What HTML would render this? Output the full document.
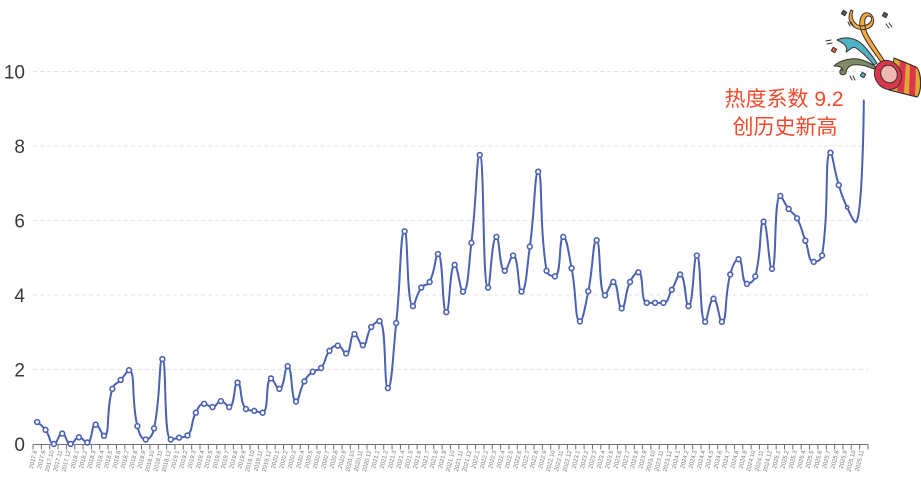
<!DOCTYPE html>
<html><head><meta charset="utf-8">
<style>
html,body{margin:0;padding:0;background:#fff;}
svg{display:block;}
.yl{font-family:"Liberation Sans",sans-serif;font-size:19px;fill:#3a3a3a;text-anchor:end;}
.xl{font-family:"Liberation Sans",sans-serif;font-size:6px;fill:#777;text-anchor:end;}
.ann{font-family:"Liberation Sans","Noto Sans CJK SC",sans-serif;font-size:21px;fill:#EE4A2B;text-anchor:middle;}
</style></head>
<body>
<svg id="svg" width="921" height="482" viewBox="0 0 921 482" xmlns="http://www.w3.org/2000/svg">
<rect width="921" height="482" fill="#fff"/>
<g stroke="#E0E3EA" stroke-width="1" stroke-dasharray="4,3">
<line x1="33" y1="369.5" x2="868" y2="369.5"/>
<line x1="33" y1="295" x2="868" y2="295"/>
<line x1="33" y1="220.5" x2="868" y2="220.5"/>
<line x1="33" y1="146" x2="868" y2="146"/>
<line x1="33" y1="71.5" x2="868" y2="71.5"/>
</g>
<text class="yl" x="25" y="451">0</text>
<text class="yl" x="25" y="376.5">2</text>
<text class="yl" x="25" y="302">4</text>
<text class="yl" x="25" y="227.5">6</text>
<text class="yl" x="25" y="153">8</text>
<text class="yl" x="25" y="78.5">10</text>
<line x1="33" y1="444.5" x2="868" y2="444.5" stroke="#6E7079" stroke-width="1"/>
<line x1="32.5" y1="447" x2="869" y2="447" stroke="#6E7079" stroke-width="5" stroke-dasharray="1 7.35"/>
<g id="xlabels">
<text class="xl" transform="translate(37.2,451) rotate(-76)">2017.8</text>
<text class="xl" transform="translate(45.5,451) rotate(-76)">2017.9</text>
<text class="xl" transform="translate(53.9,451) rotate(-76)">2017.10</text>
<text class="xl" transform="translate(62.2,451) rotate(-76)">2017.11</text>
<text class="xl" transform="translate(70.6,451) rotate(-76)">2017.12</text>
<text class="xl" transform="translate(78.9,451) rotate(-76)">2018.1</text>
<text class="xl" transform="translate(87.3,451) rotate(-76)">2018.2</text>
<text class="xl" transform="translate(95.6,451) rotate(-76)">2018.3</text>
<text class="xl" transform="translate(104.0,451) rotate(-76)">2018.4</text>
<text class="xl" transform="translate(112.3,451) rotate(-76)">2018.5</text>
<text class="xl" transform="translate(120.7,451) rotate(-76)">2018.6</text>
<text class="xl" transform="translate(129.0,451) rotate(-76)">2018.7</text>
<text class="xl" transform="translate(137.4,451) rotate(-76)">2018.8</text>
<text class="xl" transform="translate(145.7,451) rotate(-76)">2018.9</text>
<text class="xl" transform="translate(154.1,451) rotate(-76)">2018.10</text>
<text class="xl" transform="translate(162.4,451) rotate(-76)">2018.11</text>
<text class="xl" transform="translate(170.8,451) rotate(-76)">2018.12</text>
<text class="xl" transform="translate(179.1,451) rotate(-76)">2019.1</text>
<text class="xl" transform="translate(187.5,451) rotate(-76)">2019.2</text>
<text class="xl" transform="translate(195.8,451) rotate(-76)">2019.3</text>
<text class="xl" transform="translate(204.2,451) rotate(-76)">2019.4</text>
<text class="xl" transform="translate(212.5,451) rotate(-76)">2019.5</text>
<text class="xl" transform="translate(220.9,451) rotate(-76)">2019.6</text>
<text class="xl" transform="translate(229.2,451) rotate(-76)">2019.7</text>
<text class="xl" transform="translate(237.6,451) rotate(-76)">2019.8</text>
<text class="xl" transform="translate(245.9,451) rotate(-76)">2019.9</text>
<text class="xl" transform="translate(254.3,451) rotate(-76)">2019.10</text>
<text class="xl" transform="translate(262.6,451) rotate(-76)">2019.11</text>
<text class="xl" transform="translate(271.0,451) rotate(-76)">2019.12</text>
<text class="xl" transform="translate(279.3,451) rotate(-76)">2020.1</text>
<text class="xl" transform="translate(287.7,451) rotate(-76)">2020.2</text>
<text class="xl" transform="translate(296.0,451) rotate(-76)">2020.3</text>
<text class="xl" transform="translate(304.4,451) rotate(-76)">2020.4</text>
<text class="xl" transform="translate(312.7,451) rotate(-76)">2020.5</text>
<text class="xl" transform="translate(321.1,451) rotate(-76)">2020.6</text>
<text class="xl" transform="translate(329.4,451) rotate(-76)">2020.7</text>
<text class="xl" transform="translate(337.8,451) rotate(-76)">2020.8</text>
<text class="xl" transform="translate(346.1,451) rotate(-76)">2020.9</text>
<text class="xl" transform="translate(354.5,451) rotate(-76)">2020.10</text>
<text class="xl" transform="translate(362.8,451) rotate(-76)">2020.11</text>
<text class="xl" transform="translate(371.2,451) rotate(-76)">2020.12</text>
<text class="xl" transform="translate(379.5,451) rotate(-76)">2021.1</text>
<text class="xl" transform="translate(387.9,451) rotate(-76)">2021.2</text>
<text class="xl" transform="translate(396.2,451) rotate(-76)">2021.3</text>
<text class="xl" transform="translate(404.6,451) rotate(-76)">2021.4</text>
<text class="xl" transform="translate(412.9,451) rotate(-76)">2021.5</text>
<text class="xl" transform="translate(421.3,451) rotate(-76)">2021.6</text>
<text class="xl" transform="translate(429.6,451) rotate(-76)">2021.7</text>
<text class="xl" transform="translate(438.0,451) rotate(-76)">2021.8</text>
<text class="xl" transform="translate(446.3,451) rotate(-76)">2021.9</text>
<text class="xl" transform="translate(454.7,451) rotate(-76)">2021.10</text>
<text class="xl" transform="translate(463.0,451) rotate(-76)">2021.11</text>
<text class="xl" transform="translate(471.4,451) rotate(-76)">2021.12</text>
<text class="xl" transform="translate(479.7,451) rotate(-76)">2022.1</text>
<text class="xl" transform="translate(488.1,451) rotate(-76)">2022.2</text>
<text class="xl" transform="translate(496.4,451) rotate(-76)">2022.3</text>
<text class="xl" transform="translate(504.8,451) rotate(-76)">2022.4</text>
<text class="xl" transform="translate(513.1,451) rotate(-76)">2022.5</text>
<text class="xl" transform="translate(521.5,451) rotate(-76)">2022.6</text>
<text class="xl" transform="translate(529.8,451) rotate(-76)">2022.7</text>
<text class="xl" transform="translate(538.2,451) rotate(-76)">2022.8</text>
<text class="xl" transform="translate(546.5,451) rotate(-76)">2022.9</text>
<text class="xl" transform="translate(554.9,451) rotate(-76)">2022.10</text>
<text class="xl" transform="translate(563.2,451) rotate(-76)">2022.11</text>
<text class="xl" transform="translate(571.6,451) rotate(-76)">2022.12</text>
<text class="xl" transform="translate(579.9,451) rotate(-76)">2023.1</text>
<text class="xl" transform="translate(588.3,451) rotate(-76)">2023.2</text>
<text class="xl" transform="translate(596.6,451) rotate(-76)">2023.3</text>
<text class="xl" transform="translate(605.0,451) rotate(-76)">2023.4</text>
<text class="xl" transform="translate(613.3,451) rotate(-76)">2023.5</text>
<text class="xl" transform="translate(621.7,451) rotate(-76)">2023.6</text>
<text class="xl" transform="translate(630.0,451) rotate(-76)">2023.7</text>
<text class="xl" transform="translate(638.4,451) rotate(-76)">2023.8</text>
<text class="xl" transform="translate(646.7,451) rotate(-76)">2023.9</text>
<text class="xl" transform="translate(655.1,451) rotate(-76)">2023.10</text>
<text class="xl" transform="translate(663.4,451) rotate(-76)">2023.11</text>
<text class="xl" transform="translate(671.8,451) rotate(-76)">2023.12</text>
<text class="xl" transform="translate(680.1,451) rotate(-76)">2024.1</text>
<text class="xl" transform="translate(688.5,451) rotate(-76)">2024.2</text>
<text class="xl" transform="translate(696.8,451) rotate(-76)">2024.3</text>
<text class="xl" transform="translate(705.2,451) rotate(-76)">2024.4</text>
<text class="xl" transform="translate(713.5,451) rotate(-76)">2024.5</text>
<text class="xl" transform="translate(721.9,451) rotate(-76)">2024.6</text>
<text class="xl" transform="translate(730.2,451) rotate(-76)">2024.7</text>
<text class="xl" transform="translate(738.6,451) rotate(-76)">2024.8</text>
<text class="xl" transform="translate(746.9,451) rotate(-76)">2024.9</text>
<text class="xl" transform="translate(755.3,451) rotate(-76)">2024.10</text>
<text class="xl" transform="translate(763.6,451) rotate(-76)">2024.11</text>
<text class="xl" transform="translate(772.0,451) rotate(-76)">2024.12</text>
<text class="xl" transform="translate(780.3,451) rotate(-76)">2025.1</text>
<text class="xl" transform="translate(788.7,451) rotate(-76)">2025.2</text>
<text class="xl" transform="translate(797.0,451) rotate(-76)">2025.3</text>
<text class="xl" transform="translate(805.4,451) rotate(-76)">2025.4</text>
<text class="xl" transform="translate(813.7,451) rotate(-76)">2025.5</text>
<text class="xl" transform="translate(822.1,451) rotate(-76)">2025.6</text>
<text class="xl" transform="translate(830.4,451) rotate(-76)">2025.7</text>
<text class="xl" transform="translate(838.8,451) rotate(-76)">2025.8</text>
<text class="xl" transform="translate(847.1,451) rotate(-76)">2025.9</text>
<text class="xl" transform="translate(855.5,451) rotate(-76)">2025.10</text>
<text class="xl" transform="translate(863.8,451) rotate(-76)">2025.11</text>
</g>
<path id="ln" d="" fill="none" stroke="#4A62B0" stroke-width="2" stroke-linejoin="round" stroke-linecap="round"/>
<g id="mk" fill="#fff" stroke="#4A62B0" stroke-width="1.6"></g>

<text class="ann" x="784" y="106">热度系数 9.2</text>
<text class="ann" x="785" y="134">创历史新高</text>

<!-- party popper -->
<g stroke="#3b2f2f" stroke-width="1" stroke-linejoin="round" stroke-linecap="round">
  <path d="M853,11 C850,18 855,26 862,26 C872,25 874,17 869,16 C863,15 864,28 868,35 C873,44 880,54 886,63 L883,65 C876,55 868,45 864,37 C859,28 858,20 863,14 C868,10 876,16 873,24 C870,31 857,32 851,24 C848,19 849,14 851,10 Z" fill="#F2A93B"/>
  <path d="M837,40 C845,36 855,38 862,44 C868,50 873,57 877,63 L874,65 C868,58 862,52 856,48 C852,46 850,50 846,52 C848,48 846,44 837,40 Z" fill="#4FB3C6"/>
  <path d="M834,66 C840,60 852,57 862,60 C868,62 872,64 876,67 L874,69 C867,66 860,64 853,65 C848,66 846,70 846,73 C844,76 839,75 840,71 C841,68 843,69 843,71 C842,66 838,66 834,66 Z" fill="#7E8B69"/>
  <path d="M894,58 L916,67 C922,71 922,93 917,97 L889,90 Z" fill="#E4A536"/>
  <path d="M900,60 L906,62 L904,93 L897,91 Z" fill="#D8384C" stroke="none"/>
  <path d="M910,64 L916,67 L915,96 L909,95 Z" fill="#D8384C" stroke="none"/>
  <path d="M894,58 L916,67 C922,71 922,93 917,97 L889,90" fill="none"/>
  <ellipse cx="888" cy="75" rx="13" ry="15" transform="rotate(-30 888 75)" fill="#D8384C"/>
  <ellipse cx="889" cy="74" rx="8" ry="9" transform="rotate(-30 889 74)" fill="#F2B7B0"/>
  <rect x="842" y="11" width="4" height="4" fill="#5a5a5a" transform="rotate(30 844 13)"/>
  <rect x="883" y="13" width="4" height="4" fill="#5a5a5a" transform="rotate(30 885 15)"/>
  <rect x="832" y="48" width="4" height="4" fill="#E8643A" transform="rotate(30 834 50)"/>
  <rect x="861" y="73" width="4" height="4" fill="#4FB3C6" transform="rotate(30 863 75)"/>
  <path d="M848,22 L850,26 M851,22 L853,26 M886,24 L889,28 M889,23 L892,27 M826,41 L831,40 M827,44 L832,43 M850,76 L852,80 M853,76 L855,80" fill="none"/>
</g>
</svg>
<script>
(function(){
var d=[0.59,0.38,0,0.28,0,0.18,0.04,0.52,0.22,1.48,1.72,1.98,0.48,0.12,0.42,2.28,0.12,0.17,0.23,0.84,
1.08,0.99,1.15,0.99,1.65,0.94,0.89,0.84,1.76,1.48,2.09,1.14,1.68,1.94,2.04,2.50,2.64,2.43,2.95,2.65,
3.14,3.30,1.50,3.25,5.71,3.70,4.20,4.35,5.10,3.54,4.81,4.09,5.40,7.76,4.20,5.56,4.65,5.06,4.09,5.30,
7.31,4.65,4.50,5.56,4.72,3.29,4.10,5.47,3.99,4.35,3.64,4.35,4.61,3.79,3.79,3.79,4.14,4.55,3.70,5.06,
3.28,3.90,3.28,4.55,4.96,4.30,4.50,5.97,4.70,6.66,6.31,6.06,5.46,4.89,5.06,7.82,6.95,6.35,5.95,9.22];
var NS="http://www.w3.org/2000/svg";
var bw=8.35,x0=33;
var P=d.map(function(v,i){return [x0+bw*(i+0.5),444-37.25*v];});
var s=0.5,n=P.length,path='M'+P[0][0].toFixed(2)+','+P[0][1].toFixed(2);
var cpx0=P[0][0],cpy0=P[0][1],mn=Math.min,mx=Math.max;
for(var i=1;i<n;i++){
  var x=P[i][0],y=P[i][1],px=P[i-1][0],py=P[i-1][1],cpx1,cpy1,ncx=x,ncy=y;
  if(i===n-1){cpx1=x;cpy1=y;}
  else{
    var nx=P[i+1][0],ny=P[i+1][1];
    var vx=nx-px,vy=ny-py;
    var lp=Math.sqrt((x-px)*(x-px)+(y-py)*(y-py)),lnn=Math.sqrt((nx-x)*(nx-x)+(ny-y)*(ny-y));
    var r=lnn/(lnn+lp);
    ncx=x+vx*s*r;ncy=y+vy*s*r;
    ncx=mn(ncx,mx(nx,x));ncy=mn(ncy,mx(ny,y));
    ncx=mx(ncx,mn(nx,x));ncy=mx(ncy,mn(ny,y));
    vx=ncx-x;vy=ncy-y;
    cpx1=x-vx*lp/lnn;cpy1=y-vy*lp/lnn;
    cpx1=mn(cpx1,mx(px,x));cpy1=mn(cpy1,mx(py,y));
    cpx1=mx(cpx1,mn(px,x));cpy1=mx(cpy1,mn(py,y));
    vx=x-cpx1;vy=y-cpy1;
    ncx=x+vx*lnn/lp;ncy=y+vy*lnn/lp;
  }
  path+=' C'+cpx0.toFixed(2)+','+cpy0.toFixed(2)+' '+cpx1.toFixed(2)+','+cpy1.toFixed(2)+' '+x.toFixed(2)+','+y.toFixed(2);
  cpx0=ncx;cpy0=ncy;
}
document.getElementById('ln').setAttribute('d',path);
var g=document.getElementById('mk');
for(var j=0;j<n-2;j++){
  var c=document.createElementNS(NS,'circle');
  c.setAttribute('cx',P[j][0].toFixed(2));
  c.setAttribute('cy',P[j][1].toFixed(2));
  c.setAttribute('r',(j===n-3)?'1.6':'2.4');
  g.appendChild(c);
}
})();
</script>
</body></html>
